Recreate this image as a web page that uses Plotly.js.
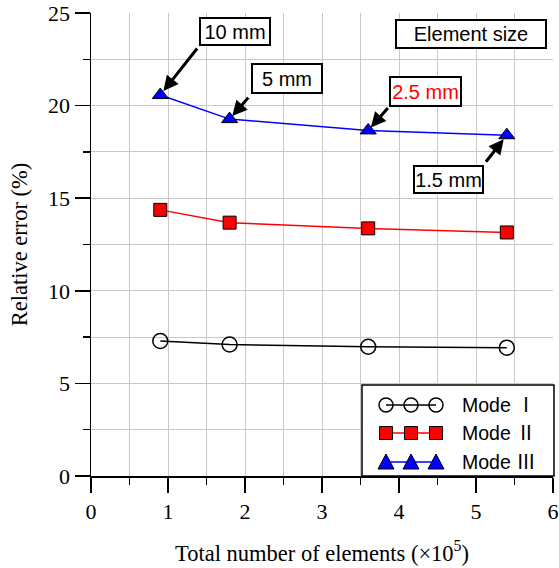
<!DOCTYPE html>
<html>
<head>
<meta charset="utf-8">
<script src="https://cdn.plot.ly/plotly-3.0.1.min.js"></script>
<style>html,body{margin:0;padding:0;background:#fff;}#chart{width:559px;height:568px;}</style>
</head>
<body>
<div id="chart"></div>
<script>
// ---- data ----
const elements = [0.9, 1.8, 3.6, 5.4];          // total number of elements (x10^5)
const modeI   = [7.29, 7.10, 6.98, 6.93];
const modeII  = [14.37, 13.68, 13.37, 13.15];
const modeIII = [20.57, 19.27, 18.66, 18.40];
const seriesNames = ['Mode Ⅰ', 'Mode Ⅱ', 'Mode Ⅲ'];
const seriesNumerals = ['Ⅰ', 'Ⅱ', 'Ⅲ'];
const sizeLabels = ['10 mm', '5 mm', '2.5 mm', '1.5 mm'];
const xTicks = [0, 1, 2, 3, 4, 5, 6];
const yTicks = [0, 5, 10, 15, 20, 25];

// ---- layout helpers (plot area in pixels) ----
const W = 559, H = 568;
const M = {l: 91, r: 6, t: 13, b: 92};
const PW = W - M.l - M.r, PH = H - M.t - M.b;
const px = x => (x - M.l) / PW;
const py = y => (H - M.b - y) / PH;

const serif = 'Liberation Serif, Times New Roman, serif';
const sans = 'Liberation Sans, Arial, sans-serif';

const traces = [
  {x: elements, y: modeI, name: seriesNames[0], mode: 'lines+markers',
   line: {color: '#000000', width: 1.5},
   marker: {symbol: 'circle-open', size: 15, color: '#000000', line: {width: 1.5, color: '#000000'}}},
  {x: elements, y: modeII, name: seriesNames[1], mode: 'lines+markers',
   line: {color: '#ff0000', width: 1.5},
   marker: {symbol: 'square', size: 13, color: '#ff0000', line: {width: 1, color: '#000000'}}},
  {x: elements, y: modeIII, name: seriesNames[2], mode: 'lines+markers',
   line: {color: '#0000ff', width: 1.5},
   marker: {symbol: 'triangle-up', size: 14, color: '#0000ff', line: {width: 1, color: '#000000'}}}
];

// ---- annotations ----
const boxStyle = {showarrow: false, bgcolor: '#ffffff', bordercolor: '#000000', borderwidth: 2, borderpad: 1,
  xref: 'paper', yref: 'paper', xanchor: 'center', yanchor: 'middle', font: {family: sans, size: 20, color: '#000000'}};
const annotations = [
  Object.assign({}, boxStyle, {text: sizeLabels[0], x: px(235), y: py(31.5), width: 66, height: 23}),
  Object.assign({}, boxStyle, {text: sizeLabels[1], x: px(287), y: py(79), width: 66, height: 25}),
  Object.assign({}, boxStyle, {text: sizeLabels[2], x: px(425.5), y: py(91.5), width: 67, height: 25,
    font: {family: sans, size: 20, color: '#ff0000'}}),
  Object.assign({}, boxStyle, {text: sizeLabels[3], x: px(448.5), y: py(179.5), width: 65, height: 23}),
  Object.assign({}, boxStyle, {text: 'Element size', x: px(471), y: py(34), width: 146, height: 24})
];
const arrowStyle = {text: '', showarrow: true, arrowhead: 2, arrowsize: 1, arrowwidth: 3, arrowcolor: '#000000',
  xref: 'x', yref: 'y'};
const arrowOffsets = [[38, -48, 5], [20, -23, 4], [21, -24, 4], [-22, 28, 5]];
arrowOffsets.forEach((o, i) => {
  annotations.push(Object.assign({}, arrowStyle, {x: elements[i], y: modeIII[i], ax: o[0], ay: o[1], standoff: o[2]}));
});

// ---- custom legend ----
const shapes = [];
shapes.push({type: 'rect', xref: 'paper', yref: 'paper', x0: px(362), x1: px(554), y0: py(476), y1: py(385),
  fillcolor: '#ffffff', line: {color: '#000000', width: 1.5}, layer: 'above'});
const rowY = [405, 433, 462];
const symX = [386, 411, 436];
const lineColors = ['#000000', '#ff0000', '#0000ff'];
rowY.forEach((ry, i) => {
  shapes.push({type: 'line', xref: 'paper', yref: 'paper', x0: px(symX[0]), x1: px(symX[2]), y0: py(ry), y1: py(ry),
    line: {color: lineColors[i], width: 1.5}, layer: 'above'});
  symX.forEach(sx => {
    if (i === 0) {
      shapes.push({type: 'circle', xref: 'paper', yref: 'paper', x0: px(sx - 7), x1: px(sx + 7), y0: py(ry + 7), y1: py(ry - 7),
        line: {color: '#000000', width: 1.5}, layer: 'above'});
    } else if (i === 1) {
      shapes.push({type: 'rect', xref: 'paper', yref: 'paper', x0: px(sx - 6.5), x1: px(sx + 6.5), y0: py(ry + 6.5), y1: py(ry - 6.5),
        fillcolor: '#ff0000', line: {color: '#000000', width: 1}, layer: 'above'});
    } else {
      const p = `M${px(sx - 8)},${py(ry + 7)} L${px(sx + 8)},${py(ry + 7)} L${px(sx)},${py(ry - 8)} Z`;
      shapes.push({type: 'path', xref: 'paper', yref: 'paper', path: p,
        fillcolor: '#0000ff', line: {color: '#000000', width: 1}, layer: 'above'});
    }
  });
  const label = 'Mode <span style="font-family:\'Noto Sans CJK SC\'">' + seriesNumerals[i] + '</span>';
  annotations.push({text: label, showarrow: false, xref: 'paper', yref: 'paper', x: px(460), y: py(ry - 2),
    xanchor: 'left', yanchor: 'middle', font: {family: sans, size: 19.5, color: '#000000'}});
});

const axisCommon = {
  showline: true, linecolor: '#000000', linewidth: 1.5, mirror: false,
  showgrid: true, gridcolor: '#c8c8c8', gridwidth: 1, zeroline: false,
  ticks: 'outside', ticklen: 15, tickwidth: 1.5, tickcolor: '#000000',
  tickfont: {family: serif, size: 22, color: '#000000'}
};

const layout = {
  width: W, height: H,
  margin: M,
  paper_bgcolor: '#ffffff', plot_bgcolor: '#ffffff',
  showlegend: false,
  xaxis: Object.assign({}, axisCommon, {
    range: [0, 6], tickmode: 'array', tickvals: xTicks, ticktext: xTicks.map(String),
    minor: {dtick: 0.5, ticks: 'outside', ticklen: 7, tickwidth: 1.5, tickcolor: '#000000', showgrid: true, gridcolor: '#c8c8c8', gridwidth: 1},
    title: {text: 'Total number of elements (×10<sup>5</sup>)', font: {family: serif, size: 22.5, color: '#000000'}, standoff: 22}
  }),
  yaxis: Object.assign({}, axisCommon, {
    range: [0, 25], tickmode: 'array', tickvals: yTicks, ticktext: yTicks.map(String),
    minor: {dtick: 2.5, ticks: 'outside', ticklen: 7, tickwidth: 1.5, tickcolor: '#000000', showgrid: true, gridcolor: '#c8c8c8', gridwidth: 1},
    title: {text: 'Relative error (%)', font: {family: serif, size: 22.5, color: '#000000'}, standoff: 14}
  }),
  annotations: annotations,
  shapes: shapes
};

Plotly.newPlot('chart', traces, layout, {displayModeBar: false, staticPlot: true});
</script>
</body>
</html>
